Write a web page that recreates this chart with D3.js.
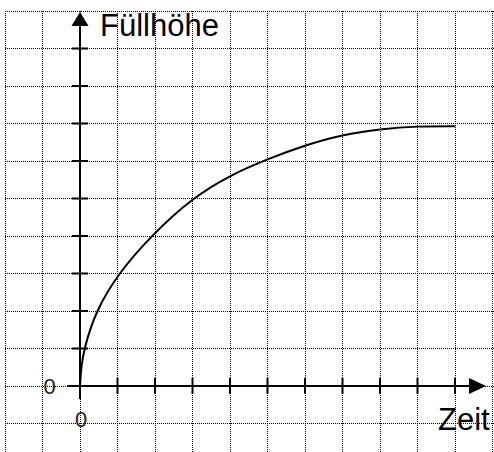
<!DOCTYPE html>
<html>
<head>
<meta charset="utf-8">
<script src="https://cdn.jsdelivr.net/npm/d3@7"></script>
<style>
  body { margin: 0; background: #fff; }
  svg { display: block; }
</style>
</head>
<body>
<div id="chart"></div>
<script>
var width = 494,
    height = 452;

// curve (grid units)
var timeVals  = [0, 0.03, 0.11, 0.42, 1.02, 1.89, 3.0, 4.02, 5.0, 6.0, 7.0, 8.0, 9.0, 10.0];
var levelVals = [0, 0.5, 1.0, 2.0, 3.0, 4.0, 5.02, 5.63, 6.05, 6.42, 6.7, 6.85, 6.93, 6.93];

var xTicks = [1, 2, 3, 4, 5, 6, 7, 8, 9, 10],
    yTicks = [1, 2, 3, 4, 5, 6, 7, 8, 9],
    xGrid = d3.range(-2, 12),
    yGrid = d3.range(-1, 11);

var xLabel = "Zeit",
    yLabel = "Füllhöhe",
    zeroLabel = "0";

var svg = d3.select('#chart')
    .append('svg')
    .attr('width', width)
    .attr('height', height);

var x = d3.scaleLinear().domain([0, 10]).range([80, 455]),
    y = d3.scaleLinear().domain([0, 10]).range([386, 11]);

// dotted grid
svg.append('g')
    .selectAll('line')
    .data(xGrid)
    .enter()
    .append('line')
    .attr('x1', function(d) { return x(d); })
    .attr('x2', function(d) { return x(d); })
    .attr('y1', y(10))
    .attr('y2', height)
    .attr('stroke', '#000')
    .attr('stroke-width', 1)
    .attr('stroke-dasharray', '1,1')
    .attr('shape-rendering', 'crispEdges');

svg.append('g')
    .selectAll('line')
    .data(yGrid)
    .enter()
    .append('line')
    .attr('y1', function(d) { return y(d); })
    .attr('y2', function(d) { return y(d); })
    .attr('x1', x(-2))
    .attr('x2', width)
    .attr('stroke', '#000')
    .attr('stroke-width', 1)
    .attr('stroke-dasharray', '1,1')
    .attr('shape-rendering', 'crispEdges');

// axes
var axes = svg.append('g');

axes.append('line')
    .attr('x1', x(0) - 13).attr('x2', x(10.5))
    .attr('y1', y(0)).attr('y2', y(0))
    .attr('stroke', '#000').attr('stroke-width', 2);

axes.append('line')
    .attr('x1', x(0)).attr('x2', x(0))
    .attr('y1', y(0) + 13).attr('y2', y(9.6))
    .attr('stroke', '#000').attr('stroke-width', 2);

// arrow heads
axes.append('path')
    .attr('d', 'M' + (x(10) + 31) + ',' + y(0) +
               'L' + (x(10) + 14) + ',' + (y(0) - 8) +
               'L' + (x(10) + 14) + ',' + (y(0) + 8) + 'Z')
    .attr('fill', '#000');

axes.append('path')
    .attr('d', 'M' + x(0) + ',' + (y(10) + 1) +
               'L' + (x(0) - 8.5) + ',' + (y(10) + 15) +
               'L' + (x(0) + 8.5) + ',' + (y(10) + 15) + 'Z')
    .attr('fill', '#000');

// ticks
axes.selectAll('.xtick')
    .data(xTicks)
    .enter()
    .append('line')
    .attr('class', 'xtick')
    .attr('x1', function(d) { return x(d); })
    .attr('x2', function(d) { return x(d); })
    .attr('y1', y(0) - 8)
    .attr('y2', y(0) + 8)
    .attr('stroke', '#000')
    .attr('stroke-width', 2);

axes.selectAll('.ytick')
    .data(yTicks)
    .enter()
    .append('line')
    .attr('class', 'ytick')
    .attr('y1', function(d) { return y(d); })
    .attr('y2', function(d) { return y(d); })
    .attr('x1', x(0) - 8)
    .attr('x2', x(0) + 8)
    .attr('stroke', '#000')
    .attr('stroke-width', 2);

// fill level curve
var points = timeVals.map(function(t, i) {
    return {time: t, level: levelVals[i]};
});

var line = d3.line()
    .curve(d3.curveBasis)
    .x(function(d) { return x(d.time); })
    .y(function(d) { return y(d.level); });

svg.append('path')
    .datum(points)
    .attr('d', line)
    .attr('fill', 'none')
    .attr('stroke', '#000')
    .attr('stroke-width', 2);

// labels
var font = '"Liberation Sans", Arial, sans-serif';

svg.append('text')
    .attr('x', x(0) + 20)
    .attr('y', 36)
    .style('font-family', font)
    .style('font-size', '31px')
    .attr('fill', '#000')
    .text(yLabel);

svg.append('text')
    .attr('x', 438)
    .attr('y', 430)
    .style('font-family', font)
    .style('font-size', '31px')
    .attr('fill', '#000')
    .text(xLabel);

svg.append('text')
    .attr('x', 49.5)
    .attr('y', y(0) + 8)
    .attr('text-anchor', 'middle')
    .style('font-family', font)
    .style('font-size', '22px')
    .attr('fill', '#222')
    .text(zeroLabel);

svg.append('text')
    .attr('x', x(0) + 1)
    .attr('y', y(0) + 41)
    .attr('text-anchor', 'middle')
    .style('font-family', font)
    .style('font-size', '22px')
    .attr('fill', '#222')
    .text(zeroLabel);
</script>
</body>
</html>
